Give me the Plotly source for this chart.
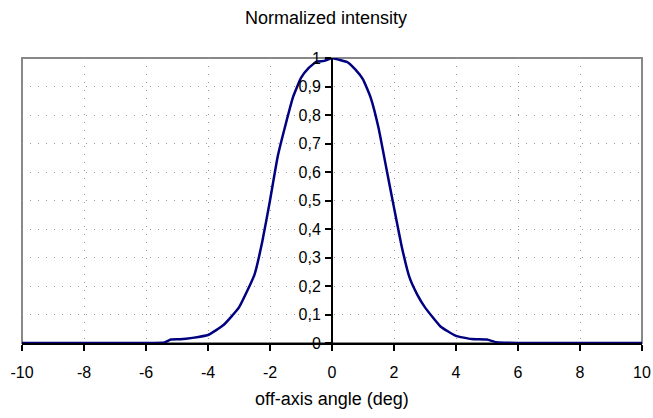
import plotly.graph_objects as go

angle_deg = [-10, -8, -6, -5.4, -5.2, -4.9, -4.5, -4.0, -3.5, -3.0, -2.5, -2.25, -2.0, -1.75,
             -1.5, -1.25, -1.0, -0.75, -0.5, -0.25, 0, 0.25, 0.5, 0.75, 1.0, 1.25, 1.5,
             1.75, 2.0, 2.25, 2.5, 2.75, 3.0, 3.5, 4.0, 4.5, 5.0, 5.3, 6, 8, 10]
intensity = [0, 0, 0, 0.002, 0.012, 0.013, 0.018, 0.028, 0.063, 0.125, 0.24, 0.355, 0.50, 0.655,
             0.765, 0.865, 0.93, 0.965, 0.987, 0.99, 1.0, 0.993, 0.985, 0.96, 0.925, 0.86, 0.755,
             0.615, 0.475, 0.338, 0.23, 0.17, 0.125, 0.058, 0.025, 0.014, 0.012, 0.003, 0, 0, 0]

x_ticks = [-10, -8, -6, -4, -2, 0, 2, 4, 6, 8, 10]
x_labels = ["-10", "-8", "-6", "-4", "-2", "0", "2", "4", "6", "8", "10"]
y_ticks = [0, 0.1, 0.2, 0.3, 0.4, 0.5, 0.6, 0.7, 0.8, 0.9, 1]
y_labels = ["0", "0,1", "0,2", "0,3", "0,4", "0,5", "0,6", "0,7", "0,8", "0,9", "1"]

font = "Liberation Sans, Arial, sans-serif"

W, H = 653, 418

fig = go.Figure()
fig.add_trace(go.Scatter(x=angle_deg, y=intensity, mode="lines",
                         line=dict(color="#000080", width=2.5, shape="spline", smoothing=0.4),
                         showlegend=False, hoverinfo="skip"))

fig.update_layout(
    width=W, height=H,
    margin=dict(l=22, r=11, t=58, b=75, autoexpand=False),
    paper_bgcolor="white", plot_bgcolor="white",
    font=dict(family=font, size=16, color="black"),
    title=dict(text="Normalized intensity", x=326 / W, xanchor="center",
               y=1 - 18 / H, yanchor="middle", font=dict(family=font, size=18, color="black")),
    xaxis=dict(range=[-10, 10], tickvals=x_ticks, ticktext=x_labels, ticks="outside",
               ticklen=6, tickwidth=2, tickcolor="black", showline=True, linecolor="black",
               linewidth=2, showgrid=True, gridcolor="#999999", griddash="1px,7px", gridwidth=1,
               zeroline=False, ticklabelstandoff=8, ticklabeloverflow="allow",
               title=dict(text="off-axis angle (deg)", standoff=12,
                          font=dict(family=font, size=18))),
    yaxis=dict(range=[0, 1], tickvals=y_ticks, ticktext=y_labels, ticks="outside", ticklen=6,
               tickwidth=2, tickcolor="black", showline=True, linecolor="black", linewidth=2,
               anchor="free", position=0.5,
               showgrid=True, gridcolor="#999999", griddash="1px,7px", gridwidth=1,
               zeroline=False, ticklabelstandoff=1),
    shapes=[dict(type="rect", xref="paper", yref="paper", x0=0, x1=1, y0=0, y1=1,
                 line=dict(color="#888888", width=2), layer="below")],
)

fig.write_html("out.html", config={"displayModeBar": False},
               post_script="document.body.style.margin='0';document.body.style.overflow='hidden';")
